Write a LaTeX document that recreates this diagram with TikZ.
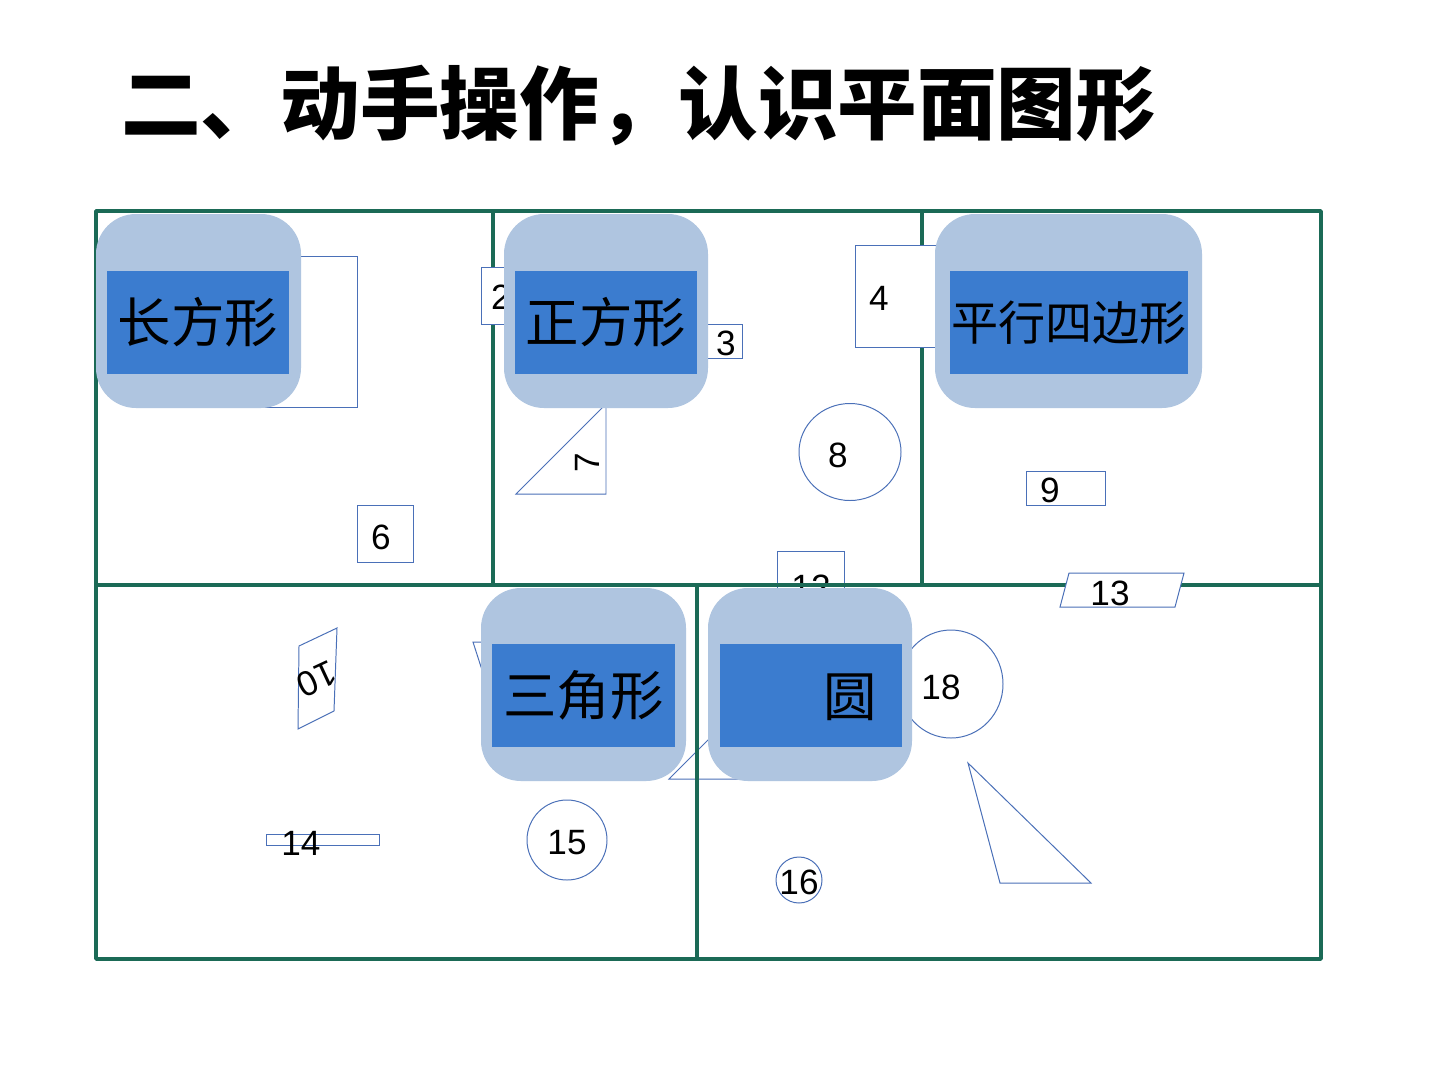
\documentclass[tikz,border=0pt]{standalone}
\usepackage{fontspec}
\setmainfont{Liberation Sans}
\newfontfamily\cjk{Noto Sans CJK SC}
\definecolor{framegreen}{HTML}{1B6A56}
\definecolor{shapeblue}{HTML}{4A70B8}
\definecolor{cardlight}{HTML}{AFC5E0}
\definecolor{cardblue}{HTML}{3B7CCF}
\begin{document}
\begin{tikzpicture}[x=0.025cm,y=-0.025cm,
  frame/.style={draw=framegreen, line width=2.6pt, line cap=round, line join=round},
  shp/.style={draw=shapeblue, line width=0.7pt},
  wshp/.style={draw=shapeblue, line width=0.7pt, fill=white},
  num/.style={font=\fontsize{25}{25}\selectfont, inner sep=0pt},
  card/.style={fill=cardlight, rounded corners=1cm},
  lab/.style={fill=cardblue, minimum height=2.575cm, inner sep=0pt, font=\cjk\fontsize{38}{38}\selectfont}]
\useasboundingbox[fill=white] (0,0) rectangle (1440,1080);

% title
\node[anchor=west, inner sep=0pt, font=\cjk\bfseries\fontsize{56.6}{60}\selectfont] (title) at (121,105) {二、动手操作，认识平面图形};

% shapes under the frame
\draw[shp] (240,256) rectangle (357,407);
\draw[shp] (606,404) -- (516,494) -- (606,494) -- cycle;
\draw[wshp] (777,551) rectangle (844,600);
\node[num] (n12) at (811,587) {12};
\draw[shp] (473,642) -- (560,642) -- (510,757) -- cycle;
\draw[shp] (669,779) -- (740,708) -- (740,779) -- cycle;

% frame
\draw[frame] (96,211) rectangle (1321,959);
\draw[frame] (96,585) -- (1321,585);
\draw[frame] (493,211) -- (493,585);
\draw[frame] (922,211) -- (922,585);
\draw[frame] (697,585) -- (697,959);

% shapes above the frame
\draw[wshp] (481,267) rectangle (530,324);
\node[num] (n2) at (501,297) {2};
\draw[wshp] (690,324) rectangle (742,358);
\node[num] (n3) at (726,343) {3};
\draw[wshp] (855,245) rectangle (940,347);
\node[num] (n4) at (879,298) {4};
\draw[shp] (357,505) rectangle (413,562);
\node[num] (n6) at (381,537) {6};
\node[num, rotate=90] (n7) at (587,463) {7};
\draw[shp] (850,452) ellipse [x radius=51, y radius=48.5];
\node[num] (n8) at (838,455) {8};
\draw[shp] (1026,471) rectangle (1105,505);
\node[num] (n9) at (1050,490) {9};
\draw[wshp] (1060,607) -- (1069,573) -- (1184,573) -- (1175,607) -- cycle;
\node[num] (n13) at (1110,593) {13};
\draw[shp] (299,646) -- (337,628) -- (334,711) -- (298,729) -- cycle;
\node[num, rotate=205] (n10) at (317,679) {10};
\draw[shp] (266,834) rectangle (379,845);
\node[num] (n14) at (301,843) {14};
\draw[shp] (567,840) circle [radius=40];
\node[num] (n15) at (567,843) {15};
\draw[shp] (799,880) circle [radius=23];
\node[num] (n16) at (799,882) {16};
\draw[shp] (951,684) ellipse [x radius=52, y radius=54];
\node[num] (n18) at (941,687) {18};
\draw[shp] (968,763) -- (1000,883) -- (1091,883) -- cycle;

% cards
\fill[card] (96,214) rectangle (301,408);
\node[lab, minimum width=4.55cm] (c1) at (198,322.5) {长方形};
\fill[card] (504,214) rectangle (708,408);
\node[lab, minimum width=4.55cm] (c2) at (606,322.5) {正方形};
\fill[card] (935,214) rectangle (1202,408);
\node[lab, minimum width=5.95cm, font=\cjk\fontsize{33.5}{34}\selectfont] (c3) at (1069,322.5) {平行四边形};
\fill[card] (481,588) rectangle (686,781);
\node[lab, minimum width=4.575cm] (c4) at (583.5,695.5) {三角形};
\fill[card] (708,588) rectangle (912,781);
\node[lab, minimum width=4.55cm] (c5) at (811,695.5) {};
\node[inner sep=0pt, font=\cjk\fontsize{38}{38}\selectfont] (c5t) at (850,697) {圆};
\end{tikzpicture}
\end{document}
